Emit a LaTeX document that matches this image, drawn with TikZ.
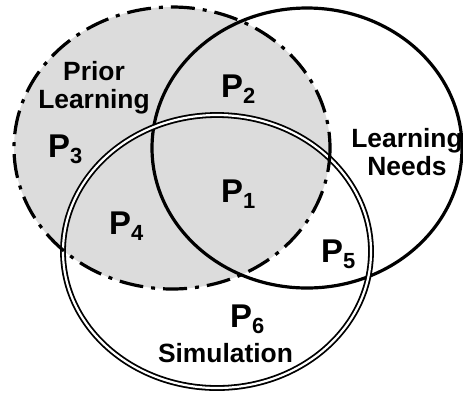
\documentclass[tikz,border=0pt]{standalone}
\usepackage{fontspec}
\setmainfont{Liberation Sans}
\definecolor{pgray}{RGB}{220,220,220}
\tikzset{
  setline/.style={line width=3.2bp},
  dashdot/.style={line width=3.2bp, dash pattern=on 24bp off 8bp on 4bp off 8bp},
  dbl/.style={line width=1.8bp, double=white, double distance=2.2bp},
  plabel/.style={anchor=base west, inner sep=0pt, font=\bfseries},
  tlabel/.style={anchor=base, inner sep=0pt, align=center, font=\bfseries\fontsize{26.5}{28}\selectfont},
}
\newcommand{\pl}[1]{{\fontsize{33}{33}\selectfont P}\raisebox{-6bp}{\fontsize{22}{22}\selectfont #1}}
\begin{document}
\begin{tikzpicture}[x=1bp,y=-1bp]
\useasboundingbox (0,0) rectangle (463,392);
\fill[pgray] (172,148) ellipse [x radius=158, y radius=141];
\draw[setline] (307,148) ellipse [x radius=155, y radius=140];
\draw[dbl] (217,251.5) ellipse [x radius=154, y radius=136.5];
\draw[dashdot] (172,148) ellipse [x radius=158, y radius=141];
\node[tlabel] (prior) at (94,108) {Prior\\Learning};
\node[tlabel] (needs) at (407,175) {Learning\\Needs};
\node[tlabel] (sim) at (225.5,362) {Simulation};
\node[plabel] (p1) at (221,202) {\pl{1}};
\node[plabel] (p2) at (221,97) {\pl{2}};
\node[plabel] (p3) at (48,157) {\pl{3}};
\node[plabel] (p4) at (109,234) {\pl{4}};
\node[plabel] (p5) at (321,262) {\pl{5}};
\node[plabel] (p6) at (230,327) {\pl{6}};
\end{tikzpicture}
\end{document}
